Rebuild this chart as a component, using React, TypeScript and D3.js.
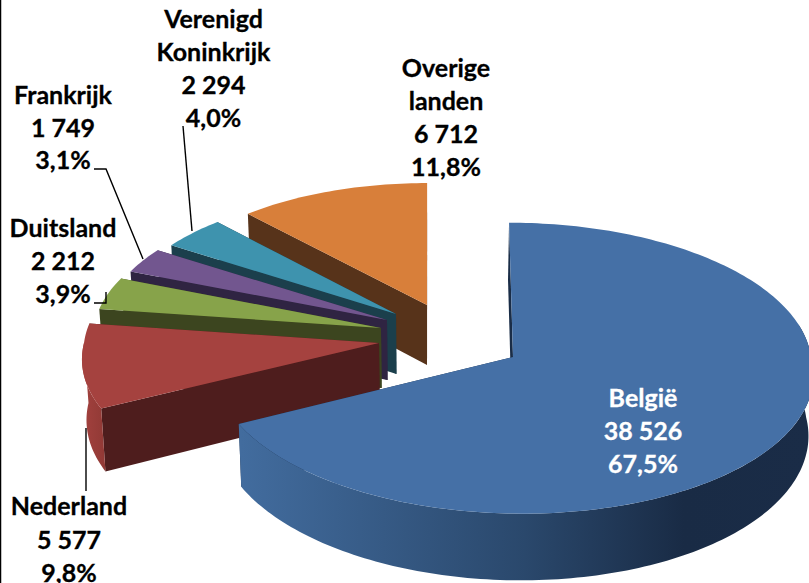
import React from "react";
import * as d3 from "d3";

const categories = ["België", "Nederland", "Duitsland", "Frankrijk", "Verenigd Koninkrijk", "Overige landen"];
const values = [38526, 5577, 2212, 1749, 2294, 6712];
const valueLabels = ["38 526", "5 577", "2 212", "1 749", "2 294", "6 712"];
const pctLabels = ["67,5%", "9,8%", "3,9%", "3,1%", "4,0%", "11,8%"];
const labelLines = [["België"], ["Nederland"], ["Duitsland"], ["Frankrijk"], ["Verenigd", "Koninkrijk"], ["Overige", "landen"]];
const topColors = ["#4570A6", "#A5423F", "#87A34A", "#72568F", "#3E93AE", "#D87F3A"];
const faceColors = ["#1A2D47", "#4E1D1D", "#3C451F", "#2F2442", "#1B3F4C", "#57331A"];
const textColors = ["#FFFFFF", "#000000", "#000000", "#000000", "#000000", "#000000"];

// layout of each exploded slice on the page
const apexX = [513, 379, 381, 387, 396, 427];
const apexY = [357, 343, 328, 320, 314, 305];
const radiusX = [298, 295, 287, 283, 277, 276];
const radiusY = [141, 138, 134, 131, 129, 128];
const labelX = [643, 69, 63, 63, 213.5, 446];
const labelTop = [407.3, 515, 237, 104, 27.5, 77.3];
const labelStep = [33, 33.5, 33, 32.7, 33, 33];
const leaderLines: [number, number][][] = [
  [],
  [[86, 428], [86, 491]],
  [[94, 303], [106, 303], [106, 292]],
  [[94, 169], [106, 169], [143, 259]],
  [[183, 126], [192, 231]],
  [],
];

const W = 809;
const H = 583;
const VANISH_X = 430;
const K_BACK = 0.05;
const K_FRONT = 0.1;
const DEPTH = 60;
const LOWER_SHRINK = 0.013;

const scaleAt = (v: number) => 1 - (v > 0 ? K_FRONT : K_BACK) * v;
const project = (i: number, theta: number, r: number): [number, number] => {
  const u = r * Math.sin(theta);
  const v = -r * Math.cos(theta);
  const s = scaleAt(v);
  return [VANISH_X + (apexX[i] - VANISH_X + radiusX[i] * u) / s, apexY[i] + (radiusY[i] * v) / s];
};
const drop = (p: [number, number], theta: number, r: number): [number, number] => {
  const v = -r * Math.cos(theta);
  return [p[0] + (VANISH_X - p[0]) * LOWER_SHRINK, p[1] + DEPTH / scaleAt(v)];
};
const lineGen = d3.line<[number, number]>();
const samples = (a: number, b: number) => {
  const n = Math.max(2, Math.ceil(Math.abs(b - a) / 0.02));
  return d3.range(n + 1).map((k) => a + ((b - a) * k) / n);
};

export default function App() {
  const arcs = d3.pie<number>().sort(null)(values);
  const HALF = Math.PI / 2;
  const order = [5, 4, 3, 2, 1, 0];
  return (
    <svg
      width={W}
      height={H}
      viewBox={`0 0 ${W} ${H}`}
      style={{ position: "fixed", left: 0, top: 0, background: "#fff" }}
      fontFamily="Lato, Carlito, sans-serif"
      fontWeight={700}
      fontSize={25}
    >
      <defs>
        <linearGradient id="blueWall" gradientUnits="userSpaceOnUse" x1={241} x2={809} y1={0} y2={0}>
          <stop offset="0" stopColor="#426C9E" />
          <stop offset="0.5" stopColor="#2A486C" />
          <stop offset="0.78" stopColor="#192B45" />
          <stop offset="1" stopColor="#1A2C47" />
        </linearGradient>
        <linearGradient id="redWall" gradientUnits="userSpaceOnUse" x1={80} x2={106} y1={0} y2={0}>
          <stop offset="0" stopColor="#A5423F" />
          <stop offset="1" stopColor="#903935" />
        </linearGradient>
      </defs>
      <line x1={0.5} y1={0} x2={0.5} y2={H} stroke="#000" strokeWidth={1.5} />
      {order.map((i) => {
        const { startAngle: a0, endAngle: a1 } = arcs[i];
        const rim = samples(a0, a1).map((t) => project(i, t, 1));
        const top = [project(i, 0, 0), ...rim];
        const apex = project(i, 0, 0);
        const apexLow = drop(apex, 0, 0);
        const face = (t: number): [number, number][] => {
          const p = project(i, t, 1);
          return [apex, p, drop(p, t, 1), apexLow];
        };
        const wStart = Math.max(a0, HALF * 0.85);
        const wEnd = Math.min(a1, 3 * HALF);
        const wall: [number, number][] =
          wEnd > wStart
            ? (() => {
                const ts = samples(wStart, wEnd);
                const up = ts.map((t) => project(i, t, 1));
                const low = ts.map((t, k) => drop(up[k], t, 1)).reverse();
                return [...up, ...low];
              })()
            : [];
        return (
          <g key={categories[i]}>
            <path d={lineGen(face(a1)) + "Z"} fill={faceColors[i]} />
            <path d={lineGen(face(a0)) + "Z"} fill={faceColors[i]} />
            {wall.length > 0 && (
              <path d={lineGen(wall) + "Z"} fill={i === 0 ? "url(#blueWall)" : "url(#redWall)"} />
            )}
            <path d={lineGen(top) + "Z"} fill={topColors[i]} />
          </g>
        );
      })}
      {leaderLines.map((pts, i) =>
        pts.length ? (
          <path key={i} d={lineGen(pts) ?? ""} fill="none" stroke="#000" strokeWidth={1.4} />
        ) : null
      )}
      {categories.map((c, i) => {
        const lines = [...labelLines[i], valueLabels[i], pctLabels[i]];
        return (
          <text key={c} textAnchor="middle" fill={textColors[i]} stroke={textColors[i]} strokeWidth={0.3}>
            {lines.map((t, k) => (
              <tspan key={k} x={labelX[i]} y={labelTop[i] + k * labelStep[i]}>
                {t}
              </tspan>
            ))}
          </text>
        );
      })}
    </svg>
  );
}
